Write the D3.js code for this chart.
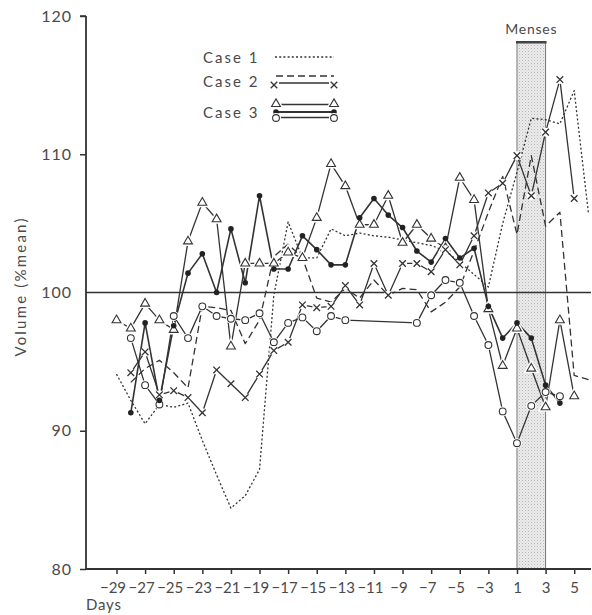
<!DOCTYPE html>
<html><head><meta charset="utf-8">
<script src="https://cdn.jsdelivr.net/npm/d3@7/dist/d3.min.js"></script>
<style>html,body{margin:0;padding:0;background:#fff;}svg{display:block;}</style>
</head><body>
<script>
// ---------- data ----------
const days = [-29,-28,-27,-26,-25,-24,-23,-22,-21,-20,-19,-18,-17,-16,-15,-14,-13,-12,-11,-10,-9,-8,-7,-6,-5,-4,-3,-2,1,2,3,4,5,6];
const dayTicks = [-29,-27,-25,-23,-21,-19,-17,-15,-13,-11,-9,-7,-5,-3,1,3,5];
const volumeTicks = [80,90,100,110,120];

// Case 1 (dotted)
const case1 = [94.1,92.2,90.5,91.9,91.7,92.0,89.3,86.8,84.4,85.3,87.2,99.8,105.1,102.5,102.5,104.6,104.1,104.3,104.1,104.0,103.8,103.6,103.4,103.0,102.2,101.3,100.4,105.0,108.7,112.6,112.5,112.2,114.6,105.7];
// Case 2 (dashed)
const case2a = [null,93.5,94.5,95.1,94.2,93.1,99.0,98.9,98.7,96.3,98.0,102.6,103.5,102.5,99.6,99.3,100.3,99.6,100.9,99.8,100.3,100.2,98.6,99.3,100.4,103.0,105.8,108.4,104.2,109.9,104.8,105.8,94.0,93.7];
// Case 2 (x markers)
const case2b = [null,94.2,95.7,92.6,92.9,92.4,91.3,94.4,93.4,92.4,94.1,95.8,96.4,99.1,98.9,99.0,100.5,99.1,102.1,99.8,102.1,102.1,101.5,103.1,102.0,104.1,107.2,107.9,109.9,107.0,111.6,115.4,106.8,null];
// Case 3 (triangles)
const case3a = [98.0,97.4,99.2,98.0,97.3,103.7,106.5,105.3,96.1,102.1,102.1,102.1,102.9,102.5,105.4,109.3,107.7,104.9,104.9,107.0,103.6,104.9,103.9,103.2,108.3,106.7,98.8,94.7,97.4,94.5,91.7,98.0,92.5,null];
// Case 3 (filled dots)
const case3b = [null,91.3,97.8,92.2,97.6,101.4,102.8,100.0,104.6,100.7,107.0,101.7,101.7,104.1,103.1,102.0,102.0,105.4,106.8,105.6,104.7,103.0,102.2,103.9,102.5,103.2,99.0,96.7,97.8,96.7,93.3,92.0,null,null];
// Case 3 (open circles)
const case3c = [null,96.7,93.3,91.9,98.3,96.7,99.0,98.3,98.1,98.0,98.5,96.4,97.8,98.2,97.2,98.3,98.0,null,null,null,null,97.8,99.8,100.9,100.7,98.3,96.2,91.4,89.1,91.8,92.8,92.5,null,null];

const mensesDays = [1, 3];
const mensesTop = 118.1;

// ---------- drawing ----------
const W = 592, H = 615;
const ink = "#333", txt = "#4a4a4a";
const FONT = "Lato, 'DejaVu Sans', sans-serif";
const svg = d3.select("body").append("svg").attr("width", W).attr("height", H);

const x = d3.scalePoint().domain(days).range([116.5, 588.5]);
const y = d3.scaleLinear().domain([80, 120]).range([569, 16]);
const axisLeftX = 86, axisRightX = 591;

// stipple pattern
const defs = svg.append("defs");
const pat = defs.append("pattern").attr("id", "stip").attr("width", 3).attr("height", 3).attr("patternUnits", "userSpaceOnUse");
pat.append("rect").attr("width", 3).attr("height", 3).attr("fill", "#ebebeb");
pat.append("rect").attr("x", 0).attr("y", 0).attr("width", 1).attr("height", 1).attr("fill", "#b8b8b8");
pat.append("rect").attr("x", 1.5).attr("y", 1.5).attr("width", 1).attr("height", 1).attr("fill", "#d2d2d2");

// menses band
const mx0 = x(mensesDays[0]), mx1 = x(mensesDays[1]);
svg.append("rect").attr("x", mx0).attr("y", y(mensesTop)).attr("width", mx1 - mx0).attr("height", y(80) - y(mensesTop)).attr("fill", "url(#stip)");
svg.append("line").attr("x1", mx0).attr("x2", mx0).attr("y1", y(mensesTop)).attr("y2", y(80)).attr("stroke", "#777").attr("stroke-width", 1);
svg.append("line").attr("x1", mx1).attr("x2", mx1).attr("y1", y(mensesTop)).attr("y2", y(80)).attr("stroke", "#777").attr("stroke-width", 1);
svg.append("line").attr("x1", mx0 - 1).attr("x2", mx1 + 1).attr("y1", y(mensesTop)).attr("y2", y(mensesTop)).attr("stroke", "#444").attr("stroke-width", 2.5);
svg.append("text").attr("x", (mx0 + mx1) / 2).attr("y", y(mensesTop) - 8).attr("text-anchor", "middle")
  .attr("font-family", FONT).attr("font-size", 14).attr("letter-spacing", 0.8).attr("fill", txt).text("Menses");

// reference line at 100
svg.append("line").attr("x1", axisLeftX).attr("x2", axisRightX).attr("y1", y(100)).attr("y2", y(100)).attr("stroke", ink).attr("stroke-width", 1.7);

// axes
const gy = svg.append("g").attr("transform", `translate(${axisLeftX},0)`)
  .call(d3.axisLeft(y).tickValues(volumeTicks).tickSize(6).tickPadding(8).tickFormat(d3.format("d")));
gy.select(".domain").remove();
gy.selectAll(".tick line").attr("stroke", ink).attr("stroke-width", 1.5);
gy.selectAll(".tick text").attr("font-family", FONT).attr("font-size", 16).attr("letter-spacing", 1).attr("fill", txt);
gy.selectAll(".tick").filter(d => d === 100).select("line").remove();

const gx = svg.append("g").attr("transform", `translate(0,${y(80)})`)
  .call(d3.axisBottom(x).tickValues(dayTicks).tickSize(5).tickPadding(8)
    .tickFormat(d => d < 0 ? "\u2212" + Math.abs(d) : String(d)));
gx.select(".domain").remove();
gx.selectAll(".tick line").attr("stroke", ink).attr("stroke-width", 1.5);
gx.selectAll(".tick text").attr("font-family", FONT).attr("font-size", 15).attr("fill", txt)
  .attr("dx", d => d < 0 ? -4 : 0);

svg.append("line").attr("x1", axisLeftX).attr("x2", axisLeftX).attr("y1", y(120)).attr("y2", y(80)).attr("stroke", ink).attr("stroke-width", 1.8);
svg.append("line").attr("x1", axisLeftX).attr("x2", axisRightX).attr("y1", y(80)).attr("y2", y(80)).attr("stroke", ink).attr("stroke-width", 1.8);
svg.append("line").attr("x1", axisLeftX).attr("x2", axisLeftX - 6).attr("y1", y(120)).attr("y2", y(120)).attr("stroke", ink).attr("stroke-width", 1.5);

svg.append("text").attr("x", 86).attr("y", 610).attr("font-family", FONT).attr("font-size", 15).attr("letter-spacing", 0.8).attr("fill", txt).text("Days");
svg.append("text").attr("transform", `translate(26,${y(100) - 6}) rotate(-90)`).attr("text-anchor", "middle")
  .attr("font-family", FONT).attr("font-size", 15).attr("letter-spacing", 2.2).attr("fill", txt).text("Volume  (%mean)");

// series
function pts(arr) { return days.map((d, i) => ({ d, v: arr[i] })).filter(p => p.v != null); }
const line = d3.line().x(p => x(p.d)).y(p => y(p.v));
function drawLine(arr, dash, w) {
  svg.append("path").datum(pts(arr)).attr("d", line).attr("fill", "none").attr("stroke", ink)
    .attr("stroke-width", w).attr("stroke-dasharray", dash || null).attr("stroke-linejoin", "round");
}
drawLine(case1, "2,2.2", 1.3);
drawLine(case2a, "7,4", 1.3);
drawLine(case2b, null, 1.3);
drawLine(case3a, null, 1.3);
drawLine(case3b, null, 1.6);
drawLine(case3c, null, 1.3);

const tri = d3.symbol().type(d3.symbolTriangle).size(34);
function markerTri(g, cx, cy) {
  g.append("path").attr("d", tri()).attr("transform", `translate(${cx},${cy})`).attr("fill", "#fff").attr("stroke", "#fff").attr("stroke-width", 4);
  g.append("path").attr("d", tri()).attr("transform", `translate(${cx},${cy})`).attr("fill", "#fff").attr("stroke", ink).attr("stroke-width", 1.1);
}
function markerX(g, cx, cy) {
  const s = 3.3;
  const dpath = `M${-s},${-s}L${s},${s}M${s},${-s}L${-s},${s}`;
  g.append("circle").attr("cx", cx).attr("cy", cy).attr("r", 4.5).attr("fill", "#fff");
  g.append("path").attr("d", dpath).attr("transform", `translate(${cx},${cy})`).attr("stroke", ink).attr("stroke-width", 1.3);
}
function markerO(g, cx, cy) {
  g.append("circle").attr("cx", cx).attr("cy", cy).attr("r", 5).attr("fill", "#fff");
  g.append("circle").attr("cx", cx).attr("cy", cy).attr("r", 3.4).attr("fill", "#fff").attr("stroke", ink).attr("stroke-width", 1.1);
}
function markerDot(g, cx, cy) {
  g.append("circle").attr("cx", cx).attr("cy", cy).attr("r", 2.8).attr("fill", "#222");
}
const mg = svg.append("g");
pts(case3c).forEach(p => markerO(mg, x(p.d), y(p.v)));
pts(case3a).forEach(p => markerTri(mg, x(p.d), y(p.v)));
pts(case2b).forEach(p => markerX(mg, x(p.d), y(p.v)));
pts(case3b).forEach(p => markerDot(mg, x(p.d), y(p.v)));

// legend
const lg = svg.append("g");
const ltxt = (ty, s) => lg.append("text").attr("x", 203).attr("y", ty).attr("font-family", FONT).attr("font-size", 15)
  .attr("letter-spacing", 2).attr("fill", txt).text(s);
ltxt(63, "Case 1"); ltxt(87, "Case 2"); ltxt(118, "Case 3");
const lline = (x1, x2, yy, dash, w) => lg.append("line").attr("x1", x1).attr("x2", x2).attr("y1", yy).attr("y2", yy)
  .attr("stroke", ink).attr("stroke-width", w || 1.3).attr("stroke-dasharray", dash || null);
lline(275, 334, 57, "2,2.2");
lline(276, 334, 76, "7,4");
lline(279, 329, 83);
markerX(lg, 274, 85); markerX(lg, 334, 85);
lline(279, 330, 104.5);
markerTri(lg, 276, 104); markerTri(lg, 334, 104);
lline(276, 334, 112, null, 1.8);
markerDot(lg, 276, 112); markerDot(lg, 334, 112);
lline(279, 331, 117.5);
markerO(lg, 276, 118); markerO(lg, 334, 118);
</script>
</body></html>
